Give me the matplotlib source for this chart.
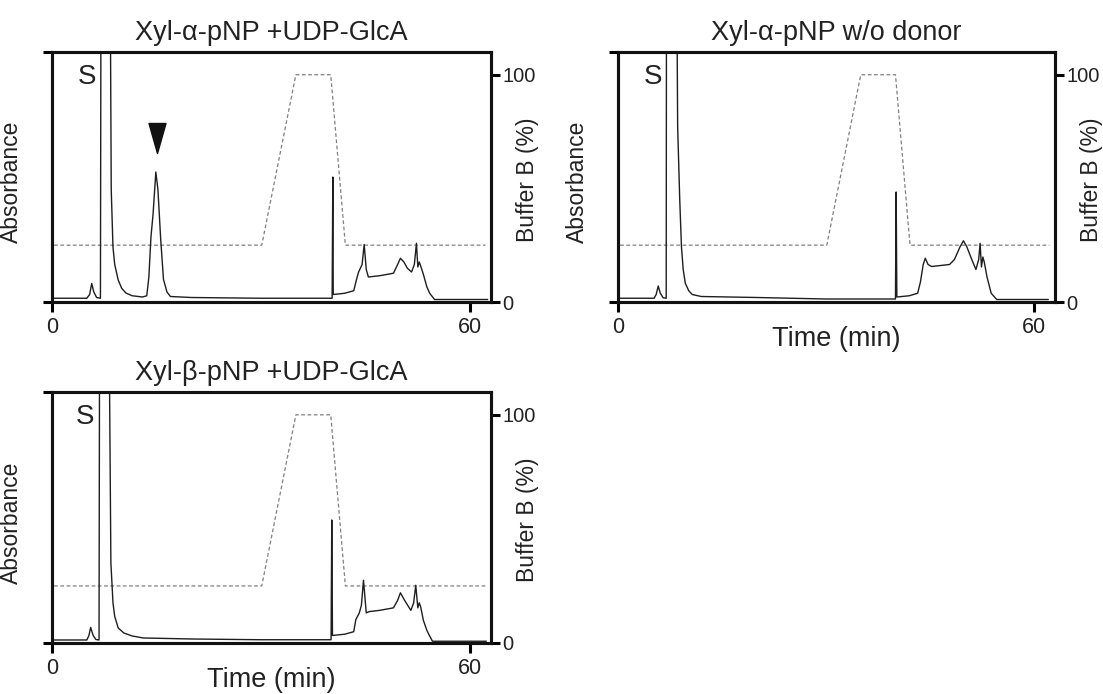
import matplotlib
matplotlib.use("Agg")
import matplotlib.pyplot as plt
from matplotlib.path import Path

plt.rcParams['font.family'] = ['Liberation Sans', 'DejaVu Sans']

# ---------------- data ----------------
titles = ["Xyl-\u03b1-pNP +UDP-GlcA", "Xyl-\u03b1-pNP w/o donor", "Xyl-\u03b2-pNP +UDP-GlcA"]

# Absorbance traces (normalised, 1 = top of panel; values >1 are off-scale)
t_a = [0.3, 5.0, 5.4, 5.7, 6.0, 6.4, 6.95, 7.05, 8.3, 8.5, 8.75, 9.0, 9.5, 10.0, 10.6, 11.5, 13.0,
       13.6, 13.9, 14.2, 14.5, 14.9, 15.2, 15.6, 16.0, 16.5, 17.0, 20.0, 30.0,
       40.2, 40.3, 40.36, 42.0, 43.3, 43.7, 44.0, 44.5, 44.8, 45.1, 45.4, 47.0, 49.0,
       49.6, 50.0, 50.5, 51.0, 51.6, 52.0, 52.3, 52.5, 52.7, 52.9, 53.3, 53.8, 54.2, 54.9,
       57.0, 62.5]
abs_a = [0.015, 0.015, 0.03, 0.074, 0.04, 0.018, 0.015, 1.6, 1.6, 0.45, 0.22, 0.15, 0.088, 0.055, 0.036, 0.025, 0.02,
         0.025, 0.10, 0.26, 0.35, 0.52, 0.45, 0.25, 0.09, 0.04, 0.022, 0.018, 0.015,
         0.015, 0.50, 0.03, 0.035, 0.045, 0.09, 0.12, 0.15, 0.23, 0.13, 0.10, 0.105, 0.115,
         0.15, 0.175, 0.16, 0.135, 0.12, 0.15, 0.235, 0.14, 0.16, 0.145, 0.11, 0.06, 0.035, 0.01,
         0.01, 0.01]

t_b = [0.2, 5.2, 5.5, 5.8, 6.1, 6.5, 6.95, 7.0, 8.4, 8.6, 8.9, 9.15, 9.4, 9.7, 10.2, 10.7, 12.0, 20.0, 30.0,
       40.0, 40.1, 40.2, 42.0, 43.2, 43.6, 44.0, 44.3, 44.7, 45.2, 47.8, 48.5, 49.3, 49.8, 50.3,
       51.0, 51.6, 52.0, 52.2, 52.4, 52.6, 52.8, 53.2, 53.8, 54.6, 62.0]
abs_b = [0.015, 0.015, 0.03, 0.064, 0.035, 0.017, 0.015, 1.6, 1.6, 0.7, 0.41, 0.22, 0.13, 0.075, 0.045, 0.03, 0.022, 0.018, 0.012,
         0.012, 0.44, 0.02, 0.025, 0.035, 0.08, 0.15, 0.175, 0.15, 0.142, 0.15, 0.17, 0.22, 0.245, 0.22,
         0.17, 0.13, 0.17, 0.235, 0.14, 0.18, 0.16, 0.10, 0.035, 0.01, 0.01]

t_c = [0.3, 5.0, 5.3, 5.55, 5.9, 6.3, 6.75, 6.85, 8.1, 8.45, 8.75, 9.0, 9.5, 10.3, 11.5, 13.1, 20.0, 30.0,
       40.05, 40.15, 40.25, 42.0, 43.3, 43.6, 44.1, 44.4, 44.7, 45.1, 45.5, 47.0, 49.0, 49.6, 50.0,
       50.6, 51.5, 51.9, 52.2, 52.5, 52.7, 52.9, 53.3, 53.8, 54.1, 54.6, 57.0, 62.3]
abs_c = [0.012, 0.012, 0.03, 0.062, 0.03, 0.014, 0.012, 1.6, 1.6, 0.32, 0.16, 0.106, 0.06, 0.04, 0.028, 0.02, 0.016, 0.013,
         0.013, 0.49, 0.03, 0.035, 0.045, 0.093, 0.12, 0.15, 0.25, 0.12, 0.125, 0.13, 0.14, 0.17, 0.20,
         0.17, 0.13, 0.16, 0.23, 0.14, 0.16, 0.145, 0.09, 0.05, 0.033, 0.007, 0.007, 0.007]

times = [t_a, t_b, t_c]
absorb = [abs_a, abs_b, abs_c]

# Buffer B gradient (%)
grad_t = [0.3, 30.1, 35.0, 40.0, 42.1, 62.2]
grad_b = [25, 25, 100, 100, 25, 25]

# product marker (arrowhead) in panel A
arrow_t = 15.1
arrow_y = 0.656

s_label_t = [5.0, 5.0, 4.8]
s_label_y = 0.90

x_ticks = [0, 60]
b_ticks = [0, 100]

# ---------------- figure ----------------
W, H = 1103, 694
fig = plt.figure(figsize=(W / 100, H / 100), dpi=100)
boxes = [  # left, top, right, bottom in pixels
    (52, 52, 491, 302),
    (618, 52, 1055, 302),
    (52, 392, 491, 643),
]
show_xlabel = [False, True, True]

tri = Path([(-0.283, 0.5), (0.283, 0.5), (0.0, -0.5), (-0.283, 0.5)],
           [Path.MOVETO, Path.LINETO, Path.LINETO, Path.CLOSEPOLY])

lw_spine = 2.2
txt = '#222222'
for i in range(3):
    l, t, r, b = boxes[i]
    ax = fig.add_axes((l / W, 1 - b / H, (r - l) / W, (b - t) / H))
    ax2 = ax.twinx()
    ax.set_zorder(2)
    ax.patch.set_visible(False)

    ax.plot(times[i], absorb[i], color='#1e1e1e', lw=1.0)
    ax2.plot(grad_t, grad_b, color='#808080', lw=0.9, ls=(0, (3, 2)))

    ax.set_xlim(0, 63)
    ax.set_ylim(0, 1)
    ax2.set_ylim(0, 110)

    ax.text(s_label_t[i], s_label_y, "S", fontsize=20, ha='center', va='center', color=txt)
    if i == 0:
        ax.plot([arrow_t], [arrow_y], marker=tri, markersize=21.6, color='#111111', ls='none')

    for a in (ax, ax2):
        for sp in a.spines.values():
            sp.set_linewidth(lw_spine)
            sp.set_color('#111111')

    ax.set_xticks(x_ticks)
    ax.set_xticklabels([str(v) for v in x_ticks], fontsize=15.5, color=txt)
    ax.set_yticks([0, 1])
    ax.set_yticklabels([])
    ax.tick_params(axis='x', direction='out', length=7, width=lw_spine, pad=3.5)
    ax.tick_params(axis='y', direction='out', length=6.5, width=lw_spine)

    ax2.set_yticks(b_ticks)
    ax2.set_yticklabels([str(v) for v in b_ticks], fontsize=14.5, color=txt)
    ax2.tick_params(axis='y', direction='out', length=6.5, width=lw_spine, pad=1.5)

    ax.set_ylabel("Absorbance", fontsize=16.5, color=txt)
    ax.yaxis.set_label_coords(-0.066, 0.48)
    ax2.set_ylabel("Buffer B (%)", fontsize=16.5, color=txt)
    ax2.yaxis.set_label_coords(1.057, 0.49)

    if show_xlabel[i]:
        ax.set_xlabel("Time (min)", fontsize=19.5, color=txt, labelpad=-8)

    ax.set_title(titles[i], fontsize=19.5, color=txt, pad=9)

fig.savefig("out.png", dpi=100)
